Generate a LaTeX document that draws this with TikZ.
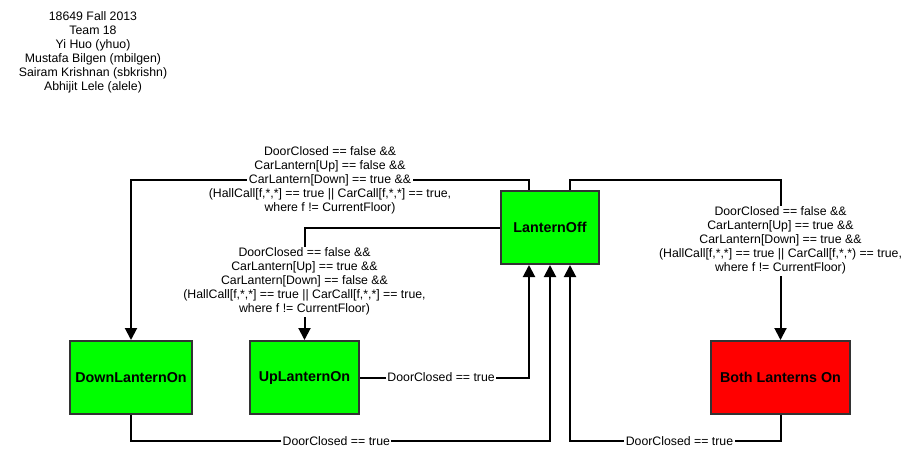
\documentclass[tikz,border=0pt]{standalone}
\usepackage{fontspec}
\setmainfont{Liberation Sans}
\usepackage{tikz}
\usetikzlibrary{arrows.meta}

\definecolor{stategreen}{HTML}{00FF00}
\definecolor{statered}{HTML}{FF0000}
\definecolor{bordergray}{HTML}{333333}
\setlength{\fboxsep}{0pt}
\newcommand{\wline}[1]{\colorbox{white}{\rule[-4pt]{0pt}{14pt}\,#1\,}}

\begin{document}
\begin{tikzpicture}[x=1pt, y=-1pt,
    state/.style={rectangle, draw=bordergray, line width=2pt, minimum height=73pt, font=\fontsize{14.3}{16}\selectfont\bfseries},
    trans/.style={line width=2pt, -{Triangle[length=12pt, width=12pt]}},
    cond/.style={align=center, inner sep=0pt, font=\fontsize{12.3}{14}\selectfont},
    ret/.style={fill=white, inner sep=1.5pt, font=\fontsize{12.3}{14}\selectfont}]
    \useasboundingbox (0, 0) rectangle (919, 469);

    \node[align=center, font=\fontsize{12.3}{14}\selectfont] at (93, 52) (title) {18649 Fall 2013\\Team 18\\Yi Huo (yhuo)\\Mustafa Bilgen (mbilgen)\\Sairam Krishnan (sbkrishn)\\Abhijit Lele (alele)};

    \node[state, fill=stategreen, minimum width=98pt] at (550, 227.5) (off) {LanternOff};
    \node[state, fill=stategreen, minimum width=122pt] at (131, 377.5) (down) {DownLanternOn};
    \node[state, fill=stategreen, minimum width=109pt] at (304.5, 377.5) (up) {UpLanternOn};
    \node[state, fill=statered, minimum width=139pt] at (780.5, 377.5) (both) {Both Lanterns On};

    \draw[trans] ([xshift=-21pt]off.north) -- ++(0, -10) -| node[cond, pos=0.25] {\wline{DoorClosed == false \&\&}\\\wline{CarLantern[Up] == false \&\&}\\\wline{CarLantern[Down] == true \&\&}\\\wline{(HallCall[f,*,*] == true || CarCall[f,*,*] == true,}\\\wline{where f != CurrentFloor)}} (down.north);
    \draw[trans] (off.west) -| node[cond, pos=0.74] {\wline{DoorClosed == false \&\&}\\\wline{CarLantern[Up] == true \&\&}\\\wline{CarLantern[Down] == false \&\&}\\\wline{(HallCall[f,*,*] == true || CarCall[f,*,*] == true,}\\\wline{where f != CurrentFloor)}} (up.north);
    \draw[trans] ([xshift=20pt]off.north) -- ++(0, -10) -| node[cond, pos=0.69] {\wline{DoorClosed == false \&\&}\\\wline{CarLantern[Up] == true \&\&}\\\wline{CarLantern[Down] == true \&\&}\\\wline{(HallCall[f,*,*] == true || CarCall[f,*,*) == true,}\\\wline{where f != CurrentFloor)}} (both.north);

    \draw[trans] (up.east) -| node[ret, pos=0.24] {DoorClosed == true} ([xshift=-21pt]off.south);
    \draw[trans] (down.south) -- ++(0, 26) -| node[ret, pos=0.245] {DoorClosed == true} (off.south);
    \draw[trans] (both.south) -- ++(0, 26) -| node[ret, pos=0.24] {DoorClosed == true} ([xshift=20pt]off.south);
\end{tikzpicture}
\end{document}
